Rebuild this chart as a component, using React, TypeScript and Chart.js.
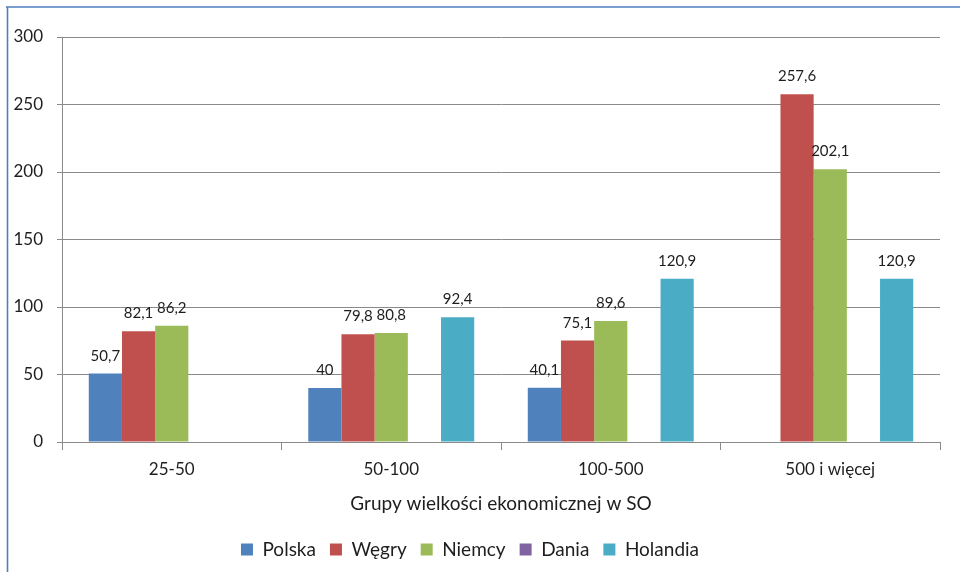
import { useEffect, useRef } from "react";
import { Chart, registerables } from "chart.js";

Chart.register(...registerables);

// Category groups on the x axis
const categories = ["25-50", "50-100", "100-500", "500 i więcej"];

// Series values per country (null = no bar)
const polska = [50.7, 40, 40.1, null];
const wegry = [82.1, 79.8, 75.1, 257.6];
const niemcy = [86.2, 80.8, 89.6, 202.1];
const dania = [null, null, null, null];
const holandia = [null, 92.4, 120.9, 120.9];

const seriesNames = ["Polska", "Węgry", "Niemcy", "Dania", "Holandia"];
const seriesColors = ["#4F81BD", "#C0504D", "#9BBB59", "#8064A2", "#4BACC6"];

// Value axis
const yMin = 0;
const yMax = 300;
const yStep = 50;

const xTitle = "Grupy wielkości ekonomicznej w SO";

const FONT = "Lato, 'Noto Sans', sans-serif";
const TEXT = "#1e1e1e";
const GRID = "#8a8a8a";

const fmt = (v: number) => String(v).replace(".", ",");

// Blue frame lines along the top and left edge of the canvas
const framePlugin = {
  id: "frame",
  beforeDraw(chart: any) {
    const { ctx, width, height } = chart;
    ctx.save();
    ctx.fillStyle = "#ffffff";
    ctx.fillRect(0, 0, width, height);
    ctx.strokeStyle = "#4F7FBF";
    ctx.lineWidth = 1.6;
    ctx.beginPath();
    ctx.moveTo(6, 7);
    ctx.lineTo(width, 7);
    ctx.moveTo(7.5, 7);
    ctx.lineTo(7.5, height);
    ctx.stroke();
    ctx.restore();
  },
};

// Value labels above each bar, with a decimal comma
const valueLabelPlugin = {
  id: "valueLabels",
  afterDatasetsDraw(chart: any) {
    const { ctx } = chart;
    ctx.save();
    ctx.font = `15px ${FONT}`;
    ctx.fillStyle = TEXT;
    ctx.textAlign = "center";
    ctx.textBaseline = "alphabetic";
    chart.data.datasets.forEach((ds: any, di: number) => {
      const meta = chart.getDatasetMeta(di);
      meta.data.forEach((bar: any, i: number) => {
        const v = ds.data[i];
        if (v === null || v === undefined) return;
        ctx.fillText(fmt(v), bar.x, bar.y - 13);
      });
    });
    ctx.restore();
  },
};

export default function App() {
  const canvasRef = useRef<HTMLCanvasElement | null>(null);

  useEffect(() => {
    document.body.style.margin = "0";
    const canvas = canvasRef.current;
    if (!canvas) return;
    const seriesData = [polska, wegry, niemcy, dania, holandia];
    const chart = new Chart(canvas, {
      type: "bar",
      data: {
        labels: categories,
        datasets: seriesNames.map((name, i) => ({
          label: name,
          data: seriesData[i],
          backgroundColor: seriesColors[i],
          borderWidth: 0,
          categoryPercentage: 0.756,
          barPercentage: 1,
        })),
      },
      options: {
        responsive: false,
        animation: false,
        layout: { padding: { top: 37, right: 20, left: 0, bottom: 3 } },
        plugins: {
          tooltip: { enabled: false },
          legend: {
            position: "bottom",
            labels: {
              boxWidth: 12,
              boxHeight: 12,
              padding: 14,
              color: TEXT,
              font: { family: FONT, size: 19 },
            },
          },
        },
        scales: {
          x: {
            grid: {
              drawOnChartArea: false,
              drawTicks: true,
              tickLength: 8,
              color: GRID,
              offset: true,
            },
            border: { color: GRID, width: 1 },
            ticks: {
              color: TEXT,
              font: { family: FONT, size: 17 },
              padding: 9,
            },
            title: {
              display: true,
              text: xTitle,
              color: TEXT,
              font: { family: FONT, size: 19 },
              padding: { top: 4, bottom: 11 },
            },
            afterFit(scale: any) {
              scale.height = 84;
            },
          },
          y: {
            min: yMin,
            max: yMax,
            ticks: {
              stepSize: yStep,
              color: TEXT,
              font: { family: FONT, size: 17 },
              padding: 14,
            },
            grid: { color: GRID, tickLength: 5, drawTicks: true },
            border: { color: GRID, width: 1 },
            afterFit(scale: any) {
              scale.width = 62;
            },
          },
        },
      },
      plugins: [framePlugin, valueLabelPlugin],
    });
    return () => chart.destroy();
  }, []);

  return (
    <div style={{ width: 960, height: 572 }}>
      <canvas ref={canvasRef} width={960} height={572} style={{ display: "block" }} />
    </div>
  );
}
